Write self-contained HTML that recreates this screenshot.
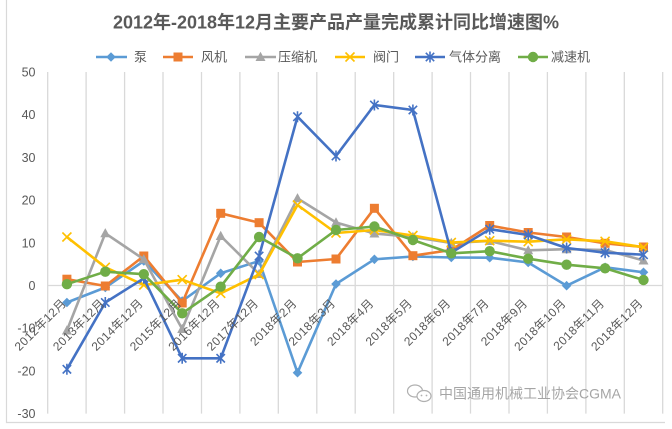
<!DOCTYPE html>
<html>
<head>
<meta charset="utf-8">
<style>
  html,body{margin:0;padding:0;background:#fff;}
  svg{display:block;}
  text{font-family:"Liberation Sans","Noto Sans CJK SC",sans-serif;}
</style>
</head>
<body>
<svg width="672" height="429" viewBox="0 0 672 429" xmlns="http://www.w3.org/2000/svg">
  <defs>
    <marker id="mPump" markerUnits="userSpaceOnUse" markerWidth="12" markerHeight="12" refX="6" refY="6" viewBox="0 0 12 12" overflow="visible">
      <polygon points="6,1.2 10.8,6 6,10.8 1.2,6" fill="#5B9BD5"/>
    </marker>
    <marker id="mFan" markerUnits="userSpaceOnUse" markerWidth="12" markerHeight="12" refX="6" refY="6" viewBox="0 0 12 12" overflow="visible">
      <rect x="1.5" y="1.5" width="9" height="9" fill="#ED7D31"/>
    </marker>
    <marker id="mComp" markerUnits="userSpaceOnUse" markerWidth="12" markerHeight="12" refX="6" refY="6" viewBox="0 0 12 12" overflow="visible">
      <polygon points="6,0.8 11,10 1,10" fill="#A5A5A5"/>
    </marker>
    <marker id="mValve" markerUnits="userSpaceOnUse" markerWidth="12" markerHeight="12" refX="6" refY="6" viewBox="0 0 12 12" overflow="visible">
      <path d="M1.5,1.5 L10.5,10.5 M1.5,10.5 L10.5,1.5" stroke="#FFC000" stroke-width="1.6" fill="none"/>
    </marker>
    <marker id="mGas" markerUnits="userSpaceOnUse" markerWidth="12" markerHeight="12" refX="6" refY="6" viewBox="0 0 12 12" overflow="visible">
      <path d="M1.8,1.8 L10.2,10.2 M1.8,10.2 L10.2,1.8 M6,0.5 L6,11.5" stroke="#4472C4" stroke-width="1.6" fill="none"/>
    </marker>
    <marker id="mRed" markerUnits="userSpaceOnUse" markerWidth="12" markerHeight="12" refX="6" refY="6" viewBox="0 0 12 12" overflow="visible">
      <circle cx="6" cy="6" r="5.2" fill="#70AD47"/>
    </marker>
  </defs>

  <rect x="0" y="0" width="672" height="429" fill="#fff"/>
  <!-- chart border -->
  <path d="M6.5,-1 L6.5,422.5 L665,422.5" stroke="#d9d9d9" stroke-width="1.2" fill="none"/>

  <!-- title -->
  <text x="336" y="28.5" text-anchor="middle" font-size="18" font-weight="bold" fill="#595959">2012年-2018年12月主要产品产量完成累计同比增速图%</text>

  <!-- legend -->
  <g font-size="13" fill="#595959">
    <polyline points="96,57 111,57 127,57" stroke="#5B9BD5" stroke-width="2.6" fill="none" marker-mid="url(#mPump)"/>
    <text x="134" y="61.5">泵</text>
    <polyline points="163,57 178,57 193,57" stroke="#ED7D31" stroke-width="2.6" fill="none" marker-mid="url(#mFan)"/>
    <text x="201" y="61.5">风机</text>
    <polyline points="245,57 260.5,57 276,57" stroke="#A5A5A5" stroke-width="2.6" fill="none" marker-mid="url(#mComp)"/>
    <text x="278" y="61.5">压缩机</text>
    <polyline points="335,57 350,57 365,57" stroke="#FFC000" stroke-width="2.6" fill="none" marker-mid="url(#mValve)"/>
    <text x="373" y="61.5">阀门</text>
    <polyline points="415,57 430,57 445,57" stroke="#4472C4" stroke-width="2.6" fill="none" marker-mid="url(#mGas)"/>
    <text x="449" y="61.5">气体分离</text>
    <polyline points="518,57 533,57 548,57" stroke="#70AD47" stroke-width="2.6" fill="none" marker-mid="url(#mRed)"/>
    <text x="551" y="61.5">减速机</text>
  </g>

  <!-- vertical gridlines -->
  <g stroke="#d9d9d9" stroke-width="1.3">
    <line x1="47.7" y1="72" x2="47.7" y2="413.6"/>
    <line x1="86.1" y1="72" x2="86.1" y2="413.6"/>
    <line x1="124.6" y1="72" x2="124.6" y2="413.6"/>
    <line x1="163.0" y1="72" x2="163.0" y2="413.6"/>
    <line x1="201.5" y1="72" x2="201.5" y2="413.6"/>
    <line x1="239.9" y1="72" x2="239.9" y2="413.6"/>
    <line x1="278.3" y1="72" x2="278.3" y2="413.6"/>
    <line x1="316.8" y1="72" x2="316.8" y2="413.6"/>
    <line x1="355.2" y1="72" x2="355.2" y2="413.6"/>
    <line x1="393.7" y1="72" x2="393.7" y2="413.6"/>
    <line x1="432.1" y1="72" x2="432.1" y2="413.6"/>
    <line x1="470.5" y1="72" x2="470.5" y2="413.6"/>
    <line x1="509.0" y1="72" x2="509.0" y2="413.6"/>
    <line x1="547.4" y1="72" x2="547.4" y2="413.6"/>
    <line x1="585.9" y1="72" x2="585.9" y2="413.6"/>
    <line x1="624.3" y1="72" x2="624.3" y2="413.6"/>
    <line x1="662.7" y1="72" x2="662.7" y2="413.6"/>
    <line x1="47.7" y1="285.5" x2="662.7" y2="285.5"/>
  </g>

  <!-- y labels -->
  <g font-size="12.5" fill="#595959" text-anchor="end">
    <text x="35.5" y="76.5">50</text>
    <text x="35.5" y="119.2">40</text>
    <text x="35.5" y="161.9">30</text>
    <text x="35.5" y="204.6">20</text>
    <text x="35.5" y="247.3">10</text>
    <text x="35.5" y="290">0</text>
    <text x="35.5" y="332.7">-10</text>
    <text x="35.5" y="375.4">-20</text>
    <text x="35.5" y="418.1">-30</text>
  </g>

  <!-- watermark -->
  <g opacity="0.9">
    <ellipse cx="415" cy="391" rx="7.5" ry="6" fill="none" stroke="#a8a8a8" stroke-width="1.2"/>
    <ellipse cx="424" cy="396" rx="7" ry="5.5" fill="#fff" stroke="#a8a8a8" stroke-width="1.2"/>
    <circle cx="421.5" cy="395.5" r="0.9" fill="#a8a8a8"/>
    <circle cx="426.5" cy="395.5" r="0.9" fill="#a8a8a8"/>
    <text x="439" y="398.5" font-size="14" fill="#9c9c9c">中国通用机械工业协会CGMA</text>
  </g>

  <!-- series -->
  <g fill="none" stroke-width="2.6" stroke-linejoin="round">
    <polyline stroke="#5B9BD5" marker-start="url(#mPump)" marker-mid="url(#mPump)" marker-end="url(#mPump)"
      points="66.9,302.5 105.3,287.5 143.8,261 182.2,301 220.7,273.3 259.1,261 297.5,372.7 336,284 374.4,259.3 412.9,256.5 451.3,257.5 489.7,257.7 528.2,262.5 566.6,285.7 605.1,267.3 643.5,272.3"/>
    <polyline stroke="#ED7D31" marker-start="url(#mFan)" marker-mid="url(#mFan)" marker-end="url(#mFan)"
      points="66.9,279.2 105.3,286 143.8,256 182.2,303 220.7,213.3 259.1,222.7 297.5,262 336,259 374.4,208.3 412.9,255.7 451.3,250 489.7,225.5 528.2,232.5 566.6,237 605.1,243.3 643.5,247"/>
    <polyline stroke="#A5A5A5" marker-start="url(#mComp)" marker-mid="url(#mComp)" marker-end="url(#mComp)"
      points="66.9,330.5 105.3,233.3 143.8,259.3 182.2,329 220.7,236 259.1,274 297.5,198.3 336,222.5 374.4,233.5 412.9,237 451.3,243 489.7,241 528.2,250.3 566.6,249.2 605.1,250 643.5,260.5"/>
    <polyline stroke="#FFC000" marker-start="url(#mValve)" marker-mid="url(#mValve)" marker-end="url(#mValve)"
      points="66.9,237 105.3,267.3 143.8,285 182.2,279.7 220.7,293.3 259.1,274.5 297.5,205 336,233 374.4,230 412.9,235.5 451.3,242.5 489.7,240.7 528.2,241.7 566.6,239.3 605.1,241.3 643.5,247.3"/>
    <polyline stroke="#4472C4" marker-start="url(#mGas)" marker-mid="url(#mGas)" marker-end="url(#mGas)"
      points="66.9,369.3 105.3,302.5 143.8,278.3 182.2,358.3 220.7,358.3 259.1,256 297.5,116.7 336,156 374.4,105 412.9,110 451.3,252.7 489.7,229.2 528.2,235 566.6,248 605.1,252.7 643.5,254.7"/>
    <polyline stroke="#70AD47" marker-start="url(#mRed)" marker-mid="url(#mRed)" marker-end="url(#mRed)"
      points="66.9,284.2 105.3,271.7 143.8,274.2 182.2,313.3 220.7,286.7 259.1,237 297.5,258.3 336,230 374.4,226.5 412.9,240 451.3,253.3 489.7,251.2 528.2,258.7 566.6,264.7 605.1,268.3 643.5,280"/>
  </g>

  <!-- x labels -->
  <g font-size="12" fill="#595959" text-anchor="end" letter-spacing="0.4">
    <text transform="translate(67,304) rotate(-45)">2012年12月</text>
    <text transform="translate(105.4,304) rotate(-45)">2013年12月</text>
    <text transform="translate(143.9,304) rotate(-45)">2014年12月</text>
    <text transform="translate(182.3,304) rotate(-45)">2015年12月</text>
    <text transform="translate(220.8,304) rotate(-45)">2016年12月</text>
    <text transform="translate(259.2,304) rotate(-45)">2017年12月</text>
    <text transform="translate(297.6,304) rotate(-45)">2018年2月</text>
    <text transform="translate(336.1,304) rotate(-45)">2018年3月</text>
    <text transform="translate(374.5,304) rotate(-45)">2018年4月</text>
    <text transform="translate(413,304) rotate(-45)">2018年5月</text>
    <text transform="translate(451.4,304) rotate(-45)">2018年6月</text>
    <text transform="translate(489.8,304) rotate(-45)">2018年7月</text>
    <text transform="translate(528.3,304) rotate(-45)">2018年9月</text>
    <text transform="translate(566.7,304) rotate(-45)">2018年10月</text>
    <text transform="translate(605.2,304) rotate(-45)">2018年11月</text>
    <text transform="translate(643.6,304) rotate(-45)">2018年12月</text>
  </g>
</svg>
</body>
</html>
